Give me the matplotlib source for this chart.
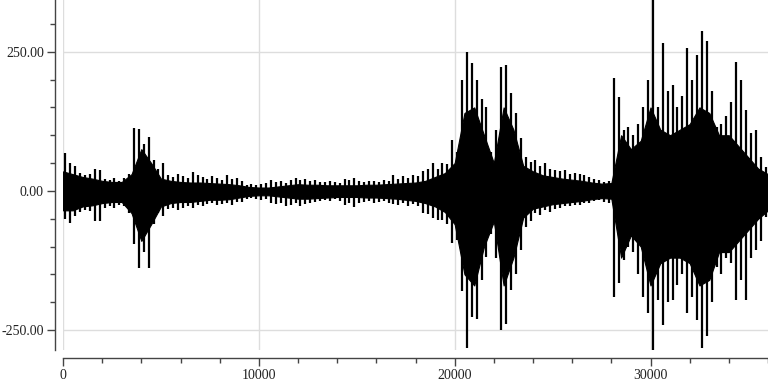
import numpy as np
import matplotlib
matplotlib.use("Agg")
import matplotlib.pyplot as plt
from matplotlib.ticker import MultipleLocator, FormatStrFormatter

plt.rcParams['font.family'] = ['Liberation Serif', 'DejaVu Serif']
plt.rcParams['axes.unicode_minus'] = False

###########################################################
# Data
# peak values (max / min) for each block of 250 samples
bin_size = 250
peak_hi = [68, 50, 45, 32, 28, 30, 40, 38, 22, 20, 23, 18, 24, 30, 113, 112,
           85, 97, 55, 40, 50, 28, 25, 30, 26, 24, 34, 28, 25, 22, 26, 24,
           20, 28, 22, 24, 18, 10, 12, 10, 12, 14, 20, 16, 18, 15, 20, 23,
           20, 22, 18, 20, 16, 16, 18, 16, 15, 22, 20, 23, 18, 16, 18, 18,
           16, 20, 18, 28, 22, 26, 24, 29, 26, 35, 40, 50, 40, 50, 48, 92,
           70, 200, 250, 230, 200, 165, 150, 70, 110, 222, 227, 176, 140, 95, 60, 52,
           56, 45, 50, 40, 38, 35, 38, 30, 32, 30, 28, 25, 22, 20, 16, 18,
           203, 169, 110, 115, 100, 120, 150, 200, 343, 150, 266, 180, 190, 150, 170, 257,
           200, 245, 288, 270, 180, 115, 120, 135, 160, 232, 200, 146, 104, 110, 61, 43]
peak_lo = [-50, -58, -45, -38, -34, -36, -55, -54, -30, -28, -30, -26, -28, -40, -95, -139,
           -110, -139, -60, -40, -45, -32, -30, -34, -30, -28, -30, -26, -28, -24, -22, -26,
           -24, -22, -26, -20, -20, -14, -13, -15, -16, -14, -22, -24, -22, -28, -26, -22,
           -28, -24, -22, -20, -18, -16, -18, -15, -18, -26, -22, -29, -22, -20, -18, -22,
           -20, -18, -22, -24, -26, -22, -28, -24, -28, -40, -42, -48, -52, -52, -60, -94,
           -88, -180, -282, -226, -230, -160, -119, -78, -120, -250, -240, -178, -150, -106, -65, -55,
           -40, -43, -35, -38, -32, -30, -28, -28, -25, -25, -22, -22, -18, -16, -20, -22,
           -190, -166, -124, -100, -110, -150, -190, -220, -286, -196, -241, -200, -196, -170, -150, -220,
           -190, -232, -282, -260, -200, -137, -150, -120, -130, -196, -160, -196, -120, -106, -90, -47]

# dense inner part of the signal, every 500 samples
core_step = 500
core_hi = [35, 30, 25, 22, 18, 16, 16, 30, 75, 50, 22, 18,
           16, 15, 15, 14, 13, 12, 10, 7, 6, 6, 8, 10,
           12, 11, 11, 10, 10, 10, 10, 11, 11, 12, 13, 14,
           15, 18, 25, 32, 50, 140, 150, 100, 50, 150, 110, 45,
           35, 28, 25, 22, 20, 18, 15, 13, 14, 100, 75, 90,
           150, 110, 100, 110, 120, 150, 140, 100, 100, 80, 60, 40,
           30]
core_lo = [-35, -35, -28, -26, -22, -20, -20, -40, -90, -60, -28, -22,
           -20, -20, -18, -16, -16, -15, -12, -9, -8, -8, -10, -12,
           -14, -14, -13, -12, -11, -11, -11, -12, -12, -13, -14, -16,
           -18, -22, -28, -38, -60, -150, -170, -100, -55, -170, -120, -48,
           -32, -28, -24, -22, -20, -18, -15, -13, -14, -120, -80, -100,
           -170, -130, -120, -120, -130, -170, -160, -110, -110, -90, -70, -50,
           -35]

x_max = 36000
y_lim = (-286, 343)

PX = 0.72  # points per pixel at 100 dpi

###########################################################
# Plot
fig = plt.figure(figsize=(7.68, 3.84), dpi=100)
ax = fig.add_axes([63/768, 34/384, 705/768, 350/384])

bin_x = (np.arange(len(peak_hi)) + 0.5) * bin_size
core_x = np.arange(len(core_hi)) * core_step
ax.fill_between(core_x, core_lo, core_hi, color='black', lw=0.8,
                edgecolor='black', zorder=3)
ax.vlines(bin_x, peak_lo, peak_hi, color='black', lw=1.6, zorder=3)

ax.set_xlim(0, x_max)
ax.set_ylim(*y_lim)

# ticks
ax.xaxis.set_major_locator(MultipleLocator(10000))
ax.xaxis.set_minor_locator(MultipleLocator(2000))
ax.yaxis.set_major_locator(MultipleLocator(250))
ax.yaxis.set_minor_locator(MultipleLocator(50))
ax.yaxis.set_major_formatter(FormatStrFormatter('%.2f'))
ax.tick_params(which='major', length=8*PX, width=1, color='#444444',
               labelsize=10, pad=3*PX, labelcolor='#222222')
ax.tick_params(which='minor', length=5*PX, width=1, color='#444444')

# grid
ax.grid(True, which='major', color='#dddddd', lw=1, zorder=0)
ax.set_axisbelow(True)

# spines
for side in ['top', 'right']:
    ax.spines[side].set_visible(False)
for side in ['left', 'bottom']:
    ax.spines[side].set_position(('outward', 8*PX))
    ax.spines[side].set_color('#444444')
    ax.spines[side].set_linewidth(1)

fig.savefig("out.png", dpi=100)
